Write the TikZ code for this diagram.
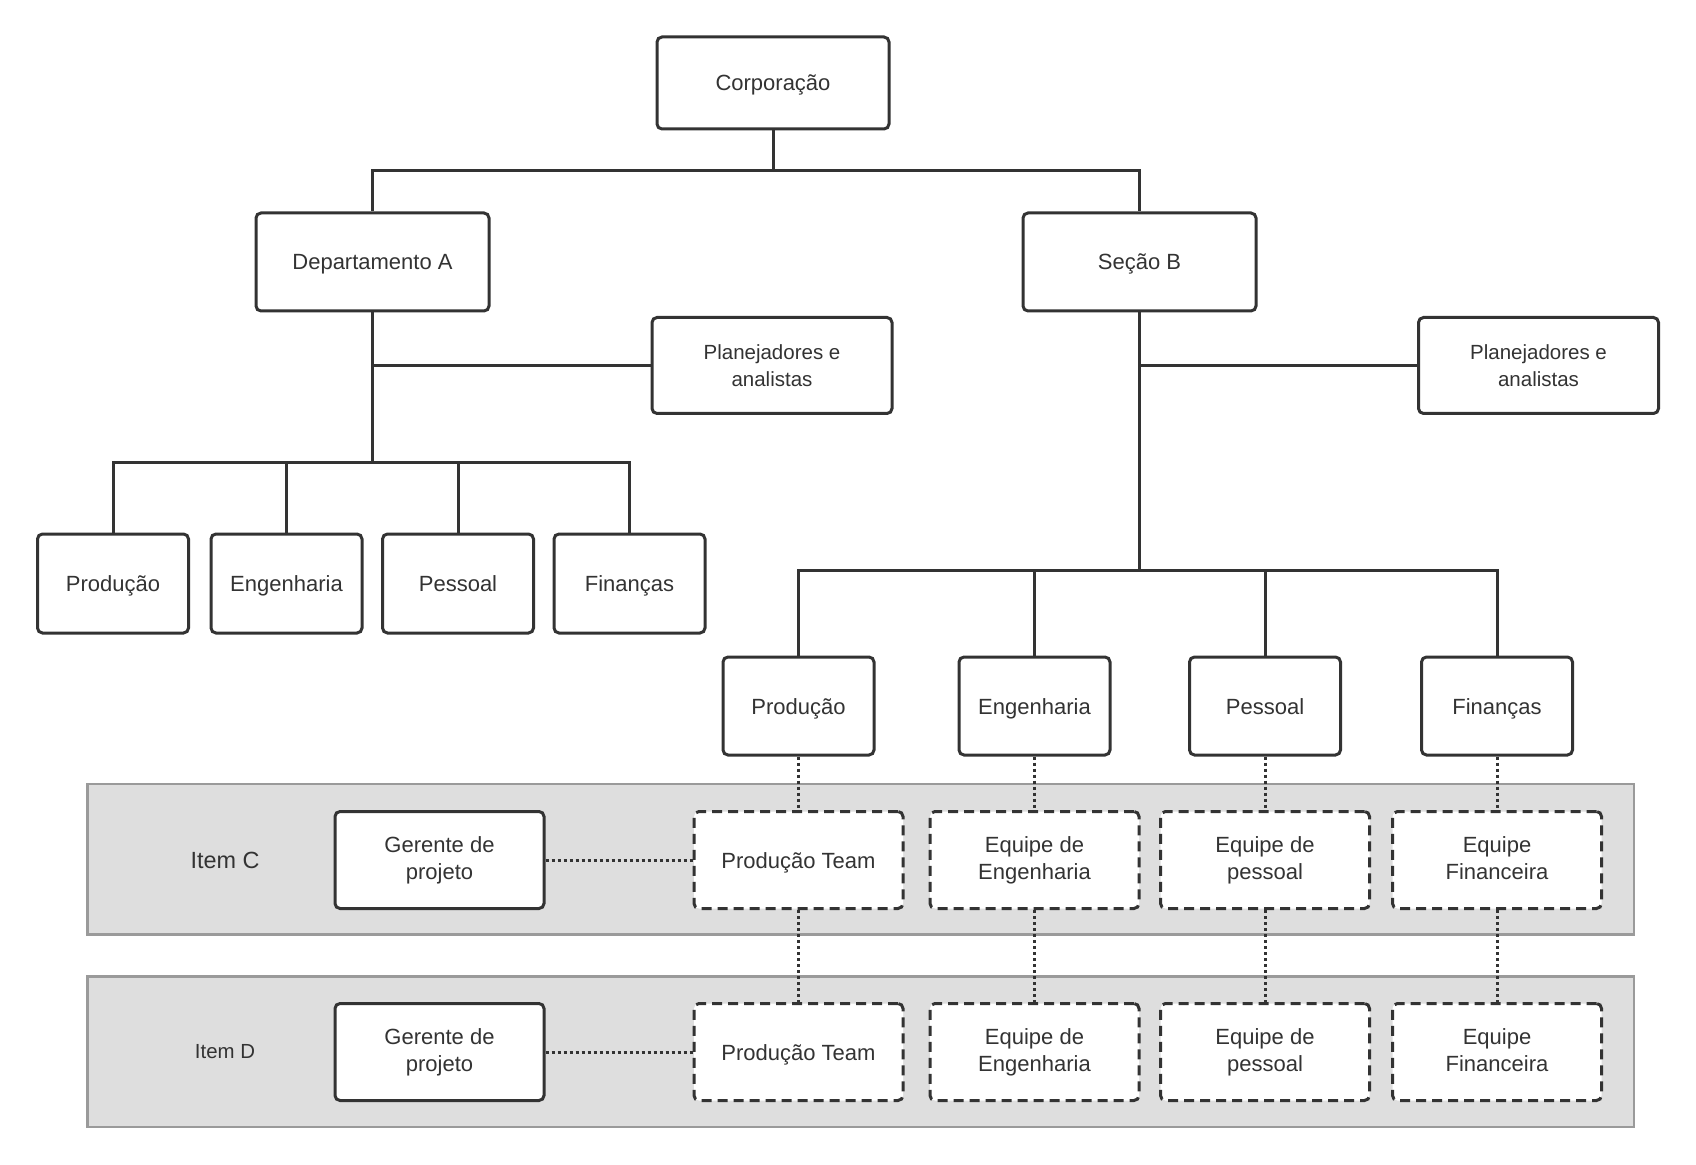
\documentclass[tikz,border=0pt]{standalone}
\usepackage{fontspec}
\setmainfont{Liberation Sans}
\definecolor{ln}{HTML}{333333}
\definecolor{tx}{HTML}{333333}
\definecolor{bandfill}{HTML}{DEDEDE}
\definecolor{banddraw}{HTML}{9A9A9A}
% strut for single-line labels
\newcommand\bs{\rule[-3pt]{0pt}{14pt}}
% top and bottom struts for two-line labels
\newcommand\tsa{\rule{0pt}{9.3pt}}
\newcommand\tsc{\rule{0pt}{11.3pt}}
\newcommand\tsb{\rule[-3.5pt]{0pt}{3.5pt}}
\begin{document}
\begin{tikzpicture}[x=0.5pt,y=-0.5pt,
  box/.style={draw=ln, line width=1.5pt, rounded corners=2.5pt, fill=white, text=tx,
    font=\fontsize{11}{13.7}\selectfont, align=center, inner sep=0pt},
  plan/.style={box, font=\fontsize{10.25}{13.3}\selectfont, minimum width=120pt, minimum height=48pt},
  topbox/.style={box, minimum width=116.5pt, minimum height=47pt},
  child/.style={box, minimum width=75.5pt, minimum height=49pt},
  team/.style={box, dash pattern=on 5pt off 3pt, minimum width=104.5pt, minimum height=48.5pt},
  mgr/.style={box, minimum width=104.5pt, minimum height=48.5pt},
  conn/.style={draw=ln, line width=1.5pt},
  dotc/.style={draw=ln, line width=1.5pt, dash pattern=on 1.5pt off 1.5pt},
  band/.style={fill=bandfill, draw=banddraw, line width=1.1pt},
  lbl/.style={text=tx, inner sep=0pt}]
\useasboundingbox (0,0) rectangle (1696,1165);

% bands
\path[band] (87.5,784) rectangle (1634,934.5);
\path[band] (87.5,976.5) rectangle (1634,1127);
\node[lbl, font=\fontsize{11.7}{14}\selectfont] (itemC) at (225,860) {Item C};
\node[lbl, font=\fontsize{10.2}{12}\selectfont] (itemD) at (225,1052) {Item D};

% top
\node[topbox, minimum width=116pt, minimum height=46pt] (corp) at (773,83) {\bs Corporação\bs};
\node[topbox, minimum height=49pt] (depA) at (372.5,262) {\bs Departamento A\bs};
\node[topbox, minimum height=49pt] (secB) at (1139.5,262) {\bs Seção B\bs};
\node[plan] (planA) at (772,365.5) {\tsc Planejadores e\\analistas\tsb};
\node[plan] (planB) at (1538.5,365.5) {\tsc Planejadores e\\analistas\tsb};

% left children
\node[child, minimum height=49.5pt] (lp) at (113,583.5) {\bs Produção\bs};
\node[child, minimum height=49.5pt] (le) at (286.5,583.5) {\bs Engenharia\bs};
\node[child, minimum height=49.5pt] (ls) at (458,583.5) {\bs Pessoal\bs};
\node[child, minimum height=49.5pt] (lf) at (629.5,583.5) {\bs Finanças\bs};

% right children
\node[child] (rp) at (798.5,706) {\bs Produção\bs};
\node[child] (re) at (1034.5,706) {\bs Engenharia\bs};
\node[child] (rs) at (1265,706) {\bs Pessoal\bs};
\node[child] (rf) at (1497,706) {\bs Finanças\bs};

% item C row
\node[mgr] (gc) at (439.5,860) {\tsa Gerente de\\projeto\tsb};
\node[team] (cp) at (798.5,860) {\bs Produção Team\bs};
\node[team] (ce) at (1034.5,860) {\tsa Equipe de\\Engenharia\tsb};
\node[team] (cs) at (1265,860) {\tsa Equipe de\\pessoal\tsb};
\node[team] (cf) at (1497,860) {\tsa Equipe\\Financeira\tsb};

% item D row
\node[mgr] (gd) at (439.5,1052) {\tsa Gerente de\\projeto\tsb};
\node[team] (dp) at (798.5,1052) {\bs Produção Team\bs};
\node[team] (de) at (1034.5,1052) {\tsa Equipe de\\Engenharia\tsb};
\node[team] (ds) at (1265,1052) {\tsa Equipe de\\pessoal\tsb};
\node[team] (df) at (1497,1052) {\tsa Equipe\\Financeira\tsb};

% connectors top
\coordinate (tbar) at (773,171);
\draw[conn] (corp.south) -- (tbar);
\draw[conn] (depA.north) |- (tbar) -| (secB.north);

% Departamento A
\coordinate (lbar) at (372.5,463);
\draw[conn] (depA.south) -- (lbar);
\draw[conn] (planA.west) -- (planA.west -| depA.south);
\draw[conn] (lp.north) |- (lbar) -| (lf.north);
\draw[conn] (le.north) -- (le.north |- lbar);
\draw[conn] (ls.north) -- (ls.north |- lbar);

% Secao B
\coordinate (rbar) at (1139.5,570);
\draw[conn] (secB.south) -- (rbar);
\draw[conn] (planB.west) -- (planB.west -| secB.south);
\draw[conn] (rp.north) |- (rbar) -| (rf.north);
\draw[conn] (re.north) -- (re.north |- rbar);
\draw[conn] (rs.north) -- (rs.north |- rbar);

% dotted
\draw[dotc] (rp.south) -- (cp.north);
\draw[dotc] (re.south) -- (ce.north);
\draw[dotc] (rs.south) -- (cs.north);
\draw[dotc] (rf.south) -- (cf.north);
\draw[dotc] (cp.south) -- (dp.north);
\draw[dotc] (ce.south) -- (de.north);
\draw[dotc] (cs.south) -- (ds.north);
\draw[dotc] (cf.south) -- (df.north);
\draw[dotc] (gc.east) -- (cp.west);
\draw[dotc] (gd.east) -- (dp.west);
\end{tikzpicture}
\end{document}
